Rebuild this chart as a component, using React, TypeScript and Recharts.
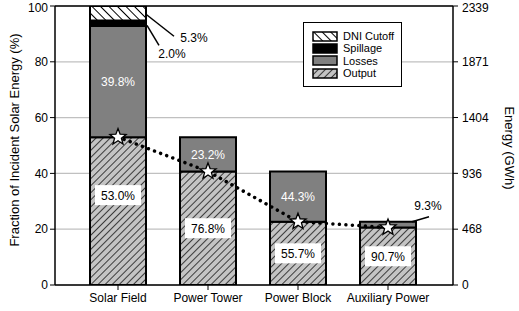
import { ComposedChart, Bar, Line, XAxis, YAxis, CartesianGrid, LabelList, ReferenceLine } from 'recharts';

const stages = ['Solar Field', 'Power Tower', 'Power Block', 'Auxiliary Power'];
const output = [53.0, 40.7, 22.7, 20.6];
const losses = [39.8, 12.3, 18.0, 2.1];
const spillage = [2.0, 0, 0, 0];
const dniCutoff = [5.3, 0, 0, 0];
const outputLabels = ['53.0%', '76.8%', '55.7%', '90.7%'];
const lossLabels = ['39.8%', '23.2%', '44.3%', '9.3%'];
const spillageLabels = ['2.0%', '', '', ''];
const dniLabels = ['5.3%', '', '', ''];
const energyGWh = [1240, 952, 531, 482];

const leftTicks = [0, 20, 40, 60, 80, 100];
const rightTicks = [0, 468, 936, 1404, 1871, 2339];

const FONT = '"Liberation Sans", Arial, sans-serif';

const data = stages.map((stage, i) => ({
  stage,
  output: output[i],
  losses: losses[i],
  spillage: spillage[i],
  dniCutoff: dniCutoff[i],
  outputLabel: outputLabels[i],
  lossLabel: lossLabels[i],
  spillageLabel: spillageLabels[i],
  dniLabel: dniLabels[i],
  energy: energyGWh[i],
}));

const Star = (props: any) => {
  const { cx, cy } = props;
  if (cx == null || cy == null) return null;
  const pts: string[] = [];
  for (let k = 0; k < 10; k++) {
    const r = k % 2 === 0 ? 8.5 : 3.6;
    const a = -Math.PI / 2 + (k * Math.PI) / 5;
    pts.push(`${cx + r * Math.cos(a)},${cy + r * Math.sin(a)}`);
  }
  return <polygon points={pts.join(' ')} fill="#fff" stroke="#000" strokeWidth={1.3} />;
};

// white box label inside the output segment, kept near the top for tall bars
const OutputLabel = (props: any) => {
  const { x, y, width, height, value } = props;
  const cx = x + width / 2;
  const cy = Math.min(y + height / 2, y + 58);
  return (
    <g>
      <rect x={cx - 23} y={cy - 10} width={46} height={20} fill="#fff" />
      <text x={cx} y={cy + 4.5} textAnchor="middle" fontSize={12} fontFamily={FONT} fill="#000">{value}</text>
    </g>
  );
};

const LossLabel = (props: any) => {
  const { x, y, width, height, value } = props;
  if (height < 15) {
    const x0 = x + width - 4;
    return (
      <g>
        <line x1={x0} y1={y} x2={x + width + 13} y2={y - 5} stroke="#000" strokeWidth={1.5} />
        <text x={x + width + 12} y={y - 12} textAnchor="middle" fontSize={12} fontFamily={FONT} fill="#000">{value}</text>
      </g>
    );
  }
  return (
    <text x={x + width / 2} y={y + height / 2 + 4.5} textAnchor="middle" fontSize={12} fontFamily={FONT} fill="#fff">{value}</text>
  );
};

const SpillLabel = (props: any) => {
  const { x, y, width, height, value } = props;
  if (!value) return null;
  const x0 = x + width + 1;
  const y0 = y + height / 2 + 2;
  return (
    <g>
      <line x1={x0} y1={y0} x2={x0 + 12} y2={y0 + 20} stroke="#000" strokeWidth={1.5} />
      <text x={x0 + 25} y={y0 + 33} textAnchor="middle" fontSize={12} fontFamily={FONT} fill="#000">{value}</text>
    </g>
  );
};

const DniLabel = (props: any) => {
  const { x, y, width, height, value } = props;
  if (!value) return null;
  const x0 = x + width;
  const y0 = y + height / 2 + 1;
  return (
    <g>
      <line x1={x0} y1={y0} x2={x0 + 28} y2={y0 + 22} stroke="#000" strokeWidth={1.5} />
      <text x={x0 + 48} y={y0 + 28} textAnchor="middle" fontSize={12} fontFamily={FONT} fill="#000">{value}</text>
    </g>
  );
};

const legendItems = [
  { name: 'DNI Cutoff', fill: 'url(#dniHatch)' },
  { name: 'Spillage', fill: '#000' },
  { name: 'Losses', fill: '#808080' },
  { name: 'Output', fill: 'url(#outHatch)' },
];

const LegendBox = () => (
  <div style={{ position: 'absolute', left: 303, top: 22, border: '1.5px solid #000', background: '#fff', width: 99, height: 65, boxSizing: 'border-box', padding: '7px 0 0 8px', fontFamily: FONT, fontSize: 11, lineHeight: '12.3px', whiteSpace: 'nowrap' }}>
    {legendItems.map((it) => (
      <div key={it.name} style={{ display: 'flex', alignItems: 'center' }}>
        <svg width={26} height={11} style={{ marginRight: 5 }}>
          <rect x={1} y={1} width={24} height={9} fill={it.fill} stroke="#000" strokeWidth={1.5} />
        </svg>
        <span>{it.name}</span>
      </div>
    ))}
  </div>
);

export default function App() {
  return (
    <div style={{ position: 'fixed', left: 0, top: 0, width: 519, height: 311, background: '#fff' }}>
      <ComposedChart width={519} height={311} data={data} margin={{ top: 6, right: 0, bottom: 0, left: 0 }} barGap={0}>
        <defs>
          <pattern id="outHatch" patternUnits="userSpaceOnUse" width={5} height={5} patternTransform="rotate(45)">
            <rect width={5} height={5} fill="#c4c4c4" />
            <line x1={0} y1={0} x2={0} y2={5} stroke="#000" strokeWidth={1.4} />
          </pattern>
          <pattern id="dniHatch" patternUnits="userSpaceOnUse" width={6} height={6} patternTransform="rotate(-45)">
            <rect width={6} height={6} fill="#fff" />
            <line x1={0} y1={0} x2={0} y2={6} stroke="#000" strokeWidth={2} />
          </pattern>
        </defs>
        <CartesianGrid yAxisId="left" vertical={false} stroke="#c0c0c0" strokeWidth={1.2} />
        <XAxis
          dataKey="stage"
          padding={{ left: 18, right: 20 }}
          height={26}
          tickSize={5}
          tickMargin={3}
          axisLine={{ stroke: '#000', strokeWidth: 1.5 }}
          tickLine={{ stroke: '#000' }}
          tick={{ fill: '#000', fontSize: 12, fontFamily: FONT }}
          interval={0}
        />
        <YAxis
          yAxisId="left"
          domain={[0, 100]}
          ticks={leftTicks}
          allowDataOverflow
          width={55}
          tickSize={5}
          tickMargin={2}
          axisLine={{ stroke: '#000', strokeWidth: 1.5 }}
          tickLine={{ stroke: '#000' }}
          tick={{ fill: '#000', fontSize: 12, fontFamily: FONT }}
        />
        <YAxis
          yAxisId="right"
          orientation="right"
          domain={[0, 2339]}
          ticks={rightTicks}
          width={66}
          tickSize={5}
          tickMargin={4}
          axisLine={{ stroke: '#000', strokeWidth: 1.5 }}
          tickLine={{ stroke: '#000' }}
          tick={{ fill: '#000', fontSize: 12, fontFamily: FONT }}
        />
        <ReferenceLine yAxisId="left" y={100} stroke="#000" strokeWidth={1.5} />
        <Bar dataKey="output" stackId="a" yAxisId="left" barSize={56} fill="url(#outHatch)" stroke="#000" strokeWidth={2} isAnimationActive={false}>
          <LabelList dataKey="outputLabel" content={<OutputLabel />} />
        </Bar>
        <Bar dataKey="losses" stackId="a" yAxisId="left" barSize={56} fill="#808080" stroke="#000" strokeWidth={2} isAnimationActive={false}>
          <LabelList dataKey="lossLabel" content={<LossLabel />} />
        </Bar>
        <Bar dataKey="spillage" stackId="a" yAxisId="left" barSize={56} fill="#000" stroke="#000" strokeWidth={2} isAnimationActive={false}>
          <LabelList dataKey="spillageLabel" content={<SpillLabel />} />
        </Bar>
        <Bar dataKey="dniCutoff" stackId="a" yAxisId="left" barSize={56} fill="url(#dniHatch)" stroke="#000" strokeWidth={2} isAnimationActive={false}>
          <LabelList dataKey="dniLabel" content={<DniLabel />} />
        </Bar>
        <Line
          yAxisId="right"
          dataKey="energy"
          type="linear"
          stroke="#000"
          strokeWidth={3.5}
          strokeDasharray="0.01 6.5"
          strokeLinecap="round"
          dot={<Star />}
          activeDot={false}
          isAnimationActive={false}
        />
        <text x={19} y={140} transform="rotate(-90 19 140)" textAnchor="middle" fontSize={13} fontFamily={FONT} fill="#000">Fraction of Incident Solar Energy (%)</text>
        <text x={505} y={148} transform="rotate(90 505 148)" textAnchor="middle" fontSize={13} fontFamily={FONT} fill="#000">Energy (GWh)</text>
      </ComposedChart>
      <LegendBox />
    </div>
  );
}
